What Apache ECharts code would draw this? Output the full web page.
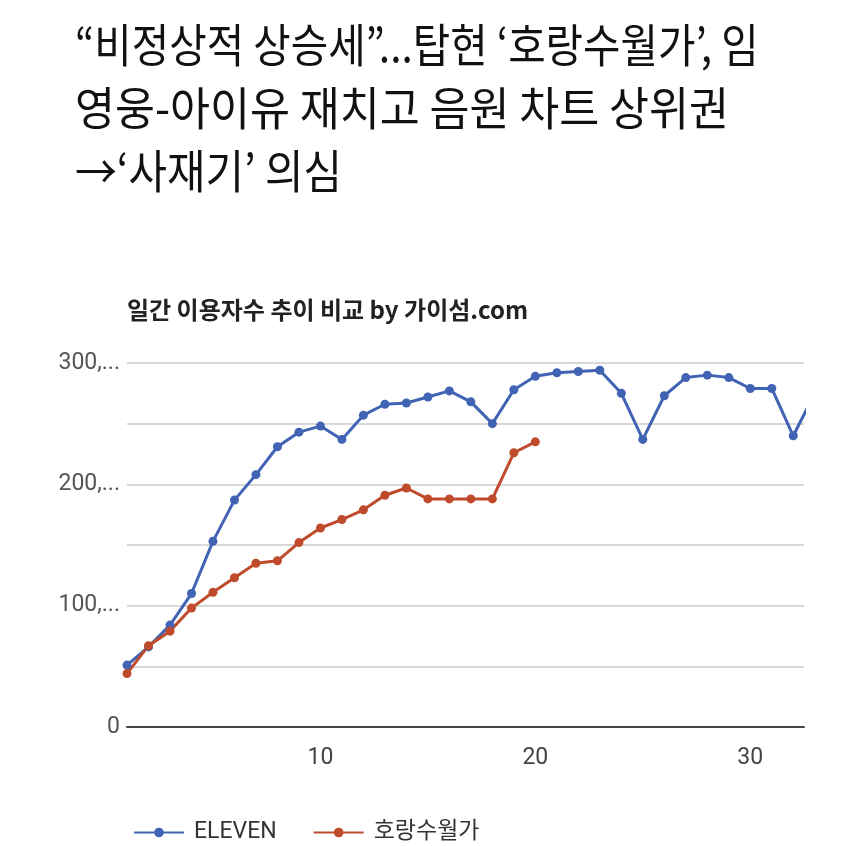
<!DOCTYPE html>
<html>
<head>
<meta charset="utf-8">
<script src="https://cdn.jsdelivr.net/npm/echarts@6/dist/echarts.min.js"></script>
<style>
html,body{margin:0;padding:0;background:#fff;}
#chart{width:850px;height:846px;}
</style>
</head>
<body>
<div id="chart"></div>
<script>
const headlineLines = [
  '“비정상적 상승세”...탑현 ‘호랑수월가’, 임',
  '영웅-아이유 재치고 음원 차트 상위권',
  '→‘사재기’ 의심'
];
const chartTitle = '일간 이용자수 추이 비교 by 가이섬.com';
const seriesNames = ['ELEVEN', '호랑수월가'];
const elevenDays = [1,2,3,4,5,6,7,8,9,10,11,12,13,14,15,16,17,18,19,20,21,22,23,24,25,26,27,28,29,30,31,32,33];
const elevenValues = [51,66,84,110,153,187,208,231,243,248,237,257,266,267,272,277,268,250,278,289,292,293,294,275,237,273,288,290,288,279,279,240,275];
const horangDays = [1,2,3,4,5,6,7,8,9,10,11,12,13,14,15,16,17,18,19,20];
const horangValues = [44,67,79,98,111,123,135,137,152,164,171,179,191,197,188,188,188,188,226,235];
const xTickValues = [10, 20, 30];
const yTickLabels = {0: '0', 100: '100,...', 200: '200,...', 300: '300,...'};

const chart = echarts.init(document.getElementById('chart'));
const pair = (xs, ys) => xs.map((x, i) => [x, ys[i]]);
const fontKR = '"Noto Sans CJK KR", "Noto Sans", sans-serif';
const headlineScale = [0.885, 0.945, 0.91];

chart.setOption({
  backgroundColor: '#ffffff',
  animation: false,
  graphic: headlineLines.map((t, i) => ({
    type: 'text',
    x: 75,
    y: 45 + i * 63,
    scaleX: headlineScale[i],
    style: {
      text: t,
      font: 'normal 46px ' + fontKR,
      fill: '#111',
      textVerticalAlign: 'middle'
    }
  })).concat([{
    type: 'text',
    x: 127,
    y: 310,
    style: {
      text: chartTitle,
      font: 'bold 24px ' + fontKR,
      fill: '#222',
      textVerticalAlign: 'middle'
    }
  }]),
  grid: {left: 127, right: 46, top: 363, bottom: 119, containLabel: false},
  legend: {
    left: 128,
    top: 816,
    itemWidth: 50,
    itemHeight: 12,
    itemGap: 36,
    textStyle: {fontSize: 23, color: '#333', fontFamily: 'Roboto, ' + fontKR, padding: [0, 0, 0, 5]},
    data: seriesNames
  },
  xAxis: {
    type: 'value',
    min: 1,
    max: 32.5,
    axisLine: {show: true, lineStyle: {color: '#444', width: 2}},
    axisTick: {show: false},
    splitLine: {show: false},
    axisLabel: {
      customValues: xTickValues,
      fontSize: 23,
      color: '#444',
      margin: 20,
      fontFamily: 'Roboto, sans-serif'
    }
  },
  yAxis: {
    type: 'value',
    min: 0,
    max: 300,
    interval: 50,
    axisLine: {show: false},
    axisTick: {show: false},
    splitLine: {lineStyle: {color: '#d8d8d8', width: 2}},
    axisLabel: {
      formatter: v => yTickLabels[v] !== undefined ? yTickLabels[v] : '',
      fontSize: 23,
      color: '#555',
      margin: 7,
      fontFamily: 'Roboto, sans-serif'
    }
  },
  series: [
    {
      name: seriesNames[0],
      type: 'line',
      data: pair(elevenDays, elevenValues),
      clip: true,
      symbol: 'circle',
      symbolSize: 9,
      color: '#4163b3',
      lineStyle: {width: 3}
    },
    {
      name: seriesNames[1],
      type: 'line',
      data: pair(horangDays, horangValues),
      clip: true,
      symbol: 'circle',
      symbolSize: 9,
      color: '#bf4b2c',
      lineStyle: {width: 3}
    }
  ]
});
</script>
</body>
</html>
